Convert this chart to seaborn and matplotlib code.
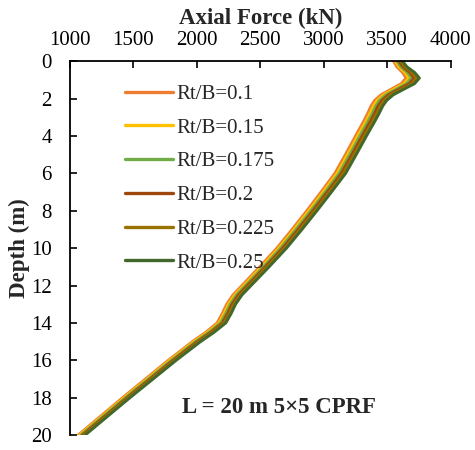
import matplotlib
matplotlib.use("Agg")
import matplotlib.pyplot as plt
import seaborn as sns
import pandas as pd

# Depth below pile head (m)
depth = [0, 0.3, 0.6, 0.9, 1.2, 1.5, 1.8, 2.1, 2.4, 2.8, 3.2, 4, 5, 6, 7, 8, 9, 10,
         11, 12, 12.5, 13, 13.5, 14, 14.5, 15, 16, 17, 18, 19, 20]

# Axial force (kN) for each Rt/B ratio
force_010 = [3550, 3575, 3620, 3648, 3610, 3530, 3450, 3400, 3372, 3345, 3315, 3250,
             3170, 3087, 2978, 2866, 2750, 2630, 2495, 2355, 2285, 2235, 2200, 2160,
             2070, 1965, 1775, 1595, 1415, 1240, 1065]
force_015 = [3564, 3591, 3639, 3669, 3631, 3550, 3469, 3419, 3390, 3363, 3333, 3267,
             3187, 3104, 2994, 2882, 2766, 2645, 2510, 2369, 2299, 2249, 2214, 2174,
             2083, 1978, 1787, 1607, 1427, 1251, 1076]
force_0175 = [3578, 3607, 3658, 3690, 3652, 3570, 3489, 3438, 3409, 3381, 3350, 3284,
              3204, 3121, 3011, 2898, 2781, 2660, 2525, 2384, 2313, 2263, 2228, 2187,
              2096, 1991, 1800, 1619, 1438, 1262, 1087]
force_020 = [3592, 3623, 3677, 3711, 3673, 3590, 3508, 3457, 3427, 3399, 3368, 3302,
             3221, 3138, 3027, 2914, 2797, 2676, 2539, 2398, 2328, 2277, 2242, 2201,
             2110, 2003, 1812, 1631, 1450, 1274, 1098]
force_0225 = [3606, 3639, 3696, 3732, 3694, 3610, 3528, 3476, 3446, 3417, 3385, 3319,
              3238, 3155, 3044, 2930, 2812, 2691, 2554, 2413, 2342, 2291, 2256, 2214,
              2123, 2016, 1825, 1643, 1461, 1285, 1109]
force_025 = [3620, 3655, 3715, 3753, 3715, 3630, 3547, 3495, 3464, 3435, 3403, 3336,
             3255, 3172, 3060, 2946, 2828, 2706, 2569, 2427, 2356, 2305, 2270, 2228,
             2136, 2029, 1837, 1655, 1473, 1296, 1120]

labels = ["Rt/B=0.1", "Rt/B=0.15", "Rt/B=0.175", "Rt/B=0.2", "Rt/B=0.225", "Rt/B=0.25"]
series = [force_010, force_015, force_0175, force_020, force_0225, force_025]
colors = ["#ED7D31", "#FFC000", "#70AD47", "#9E480E", "#997300", "#43682B"]

x_ticks = [1000, 1500, 2000, 2500, 3000, 3500, 4000]
y_ticks = [0, 2, 4, 6, 8, 10, 12, 14, 16, 18, 20]

rows = []
for lab, vals in zip(labels, series):
    for d, f in zip(depth, vals):
        rows.append({"Depth": d, "Force": f, "Case": lab})
df = pd.DataFrame(rows)

sns.set_theme(style="white")
plt.rcParams["font.family"] = ["Liberation Serif", "DejaVu Serif"]

fig = plt.figure(figsize=(4.75, 4.5), dpi=100)
ax = fig.add_axes([0.147, 0.033, 0.802, 0.831])

sns.lineplot(data=df, x="Force", y="Depth", hue="Case", hue_order=labels,
             palette=colors, orient="y", estimator=None, sort=False,
             linewidth=2.1, solid_joinstyle="round", solid_capstyle="round", ax=ax)

ax.set_xlim(1000, 4000)
ax.set_ylim(20, 0)
ax.set_xticks(x_ticks)
ax.set_yticks(y_ticks)
ax.xaxis.tick_top()
ax.xaxis.set_label_position("top")
ax.tick_params(axis="both", direction="in", length=5, width=1.2, labelsize=15,
               colors="black")
ax.tick_params(axis="x", top=True, bottom=False, pad=8)
ax.tick_params(axis="y", left=True, right=False, pad=13)

for side in ["right", "bottom"]:
    ax.spines[side].set_visible(False)
for side in ["top", "left"]:
    ax.spines[side].set_visible(True)
    ax.spines[side].set_color("black")
    ax.spines[side].set_linewidth(1.3)

ax.set_xlabel("Axial Force (kN)", fontsize=16.5, fontweight="bold", labelpad=5)
ax.set_ylabel("Depth (m)", fontsize=16.5, fontweight="bold", labelpad=1)

leg = ax.legend(loc="upper left", bbox_to_anchor=(0.118, 0.966), frameon=False,
                fontsize=15, handlelength=2.3, handletextpad=0.15,
                labelspacing=0.68, borderpad=0)
for line in leg.get_lines():
    line.set_linewidth(2.4)

ax.text(0.55, 0.075, "L = 20 m 5×5 CPRF", transform=ax.transAxes, ha="center",
        va="center", fontsize=16.5, fontweight="bold")

fig.savefig("out.png", dpi=100)
